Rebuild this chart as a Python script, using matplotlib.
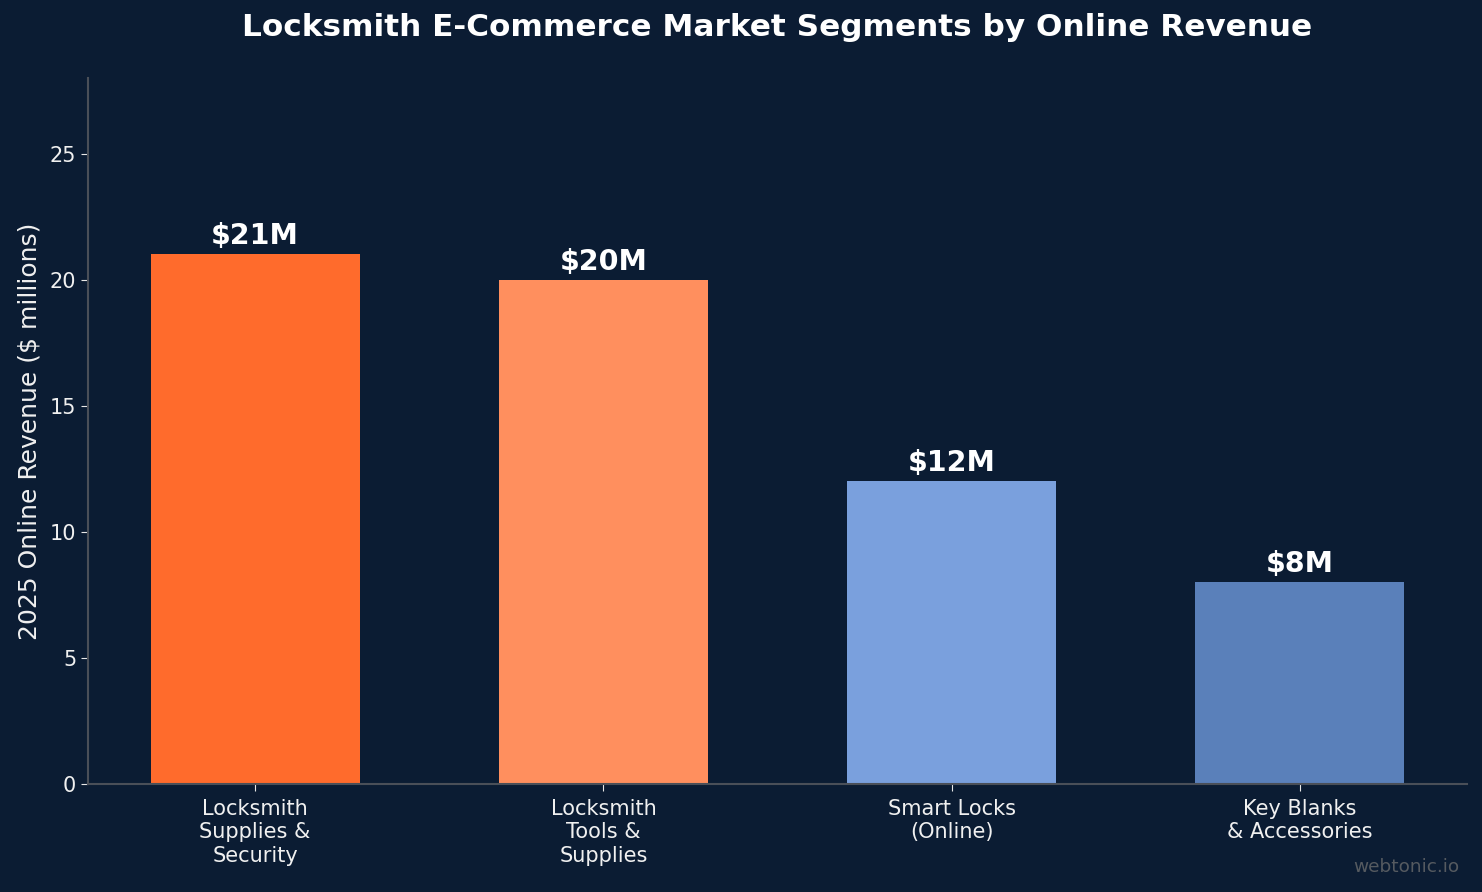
import matplotlib
matplotlib.use("Agg")
import matplotlib.pyplot as plt

categories = ["Locksmith\nSupplies &\nSecurity", "Locksmith\nTools &\nSupplies", "Smart Locks\n(Online)", "Key Blanks\n& Accessories"]
values = [21, 20, 12, 8]
labels = ["$21M", "$20M", "$12M", "$8M"]
colors = ["#FF6B2C", "#FF8F5E", "#7AA0DD", "#5A80BA"]

bg = "#0B1C33"
fig = plt.figure(figsize=(14.82, 8.92), dpi=100, facecolor=bg)
ax = fig.add_axes([0.0594, 0.1211, 0.9305, 0.7915], facecolor=bg)

x = list(range(len(categories)))
ax.bar(x, values, width=0.6, color=colors)
for xi, v, lab in zip(x, values, labels):
    ax.annotate(lab, (xi, v), xytext=(0, 3), textcoords="offset points",
                ha="center", va="bottom", color="white", fontsize=20.5, fontweight="bold")

ax.set_ylim(0, 28)
ax.set_xticks(x)
ax.set_xticklabels(categories, color="#F0F0F0", fontsize=15)
ax.set_yticks([0, 5, 10, 15, 20, 25])
ax.tick_params(axis="y", colors="#F0F0F0", labelsize=15, length=5, color="#E8E8E8")
ax.tick_params(axis="x", colors="#F0F0F0", length=5, color="#E8E8E8", pad=6)
ax.set_ylabel("2025 Online Revenue ($ millions)", color="#F0F0F0", fontsize=18, labelpad=6)
for s in ["top", "right"]:
    ax.spines[s].set_visible(False)
for s in ["left", "bottom"]:
    ax.spines[s].set_color("#4A4F58")
    ax.spines[s].set_linewidth(1.5)

fig.text(0.5246, 0.969, "Locksmith E-Commerce Market Segments by Online Revenue", color="white",
         fontsize=22.4, fontweight="bold", ha="center", va="center")
fig.text(0.985, 0.028, "webtonic.io", color="#555A60", fontsize=13.3, ha="right", va="center")

fig.savefig("out.png", dpi=100, facecolor=bg)
